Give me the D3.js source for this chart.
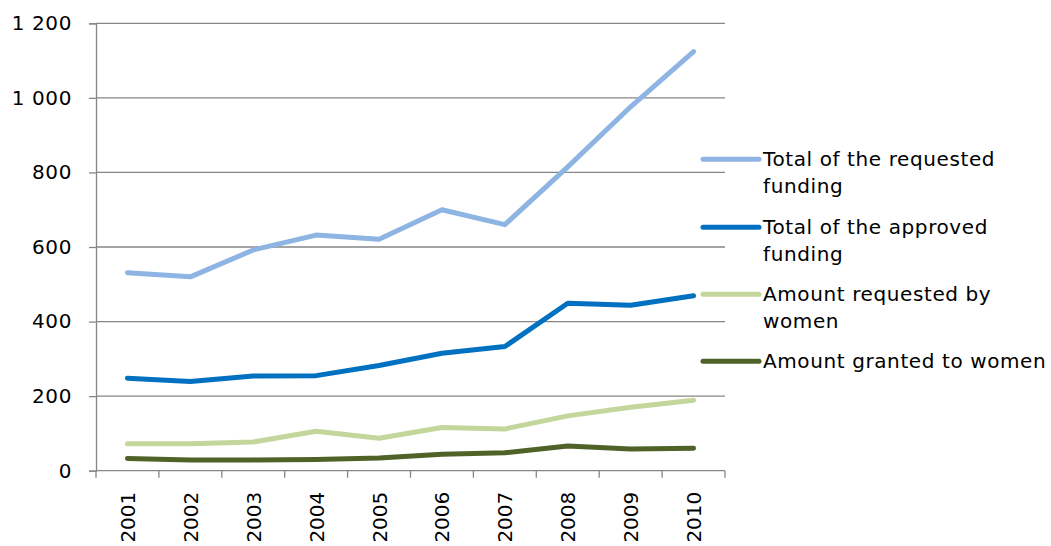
<!DOCTYPE html>
<html>
<head>
<meta charset="utf-8">
<script src="https://cdn.jsdelivr.net/npm/d3@7.9.0/dist/d3.min.js"></script>
<style>
  body { margin: 0; background: #fff; }
  text { font-family: "DejaVu Sans", Verdana, sans-serif; fill: #000; letter-spacing: 0.6px; }
  text.xlabel { letter-spacing: 0; }
</style>
</head>
<body>
<svg width="1051" height="546"></svg>
<script>
const years = ['2001', '2002', '2003', '2004', '2005', '2006', '2007', '2008', '2009', '2010'];
const requested = [531, 520, 592, 632, 621, 700, 660, 815, 976, 1124];
const approved = [248, 239, 254, 255, 282, 315, 333, 449, 444, 469];
const requestedWomen = [72, 72, 77, 106, 87, 116, 112, 147, 170, 189];
const grantedWomen = [33, 29, 29, 30, 34, 44, 48, 66, 58, 60];
const yTicks = [0, 200, 400, 600, 800, 1000, 1200];

const series = [
  { name: ['Total of the requested', 'funding'], values: requested, color: '#8db4e2' },
  { name: ['Total of the approved', 'funding'], values: approved, color: '#0070c0' },
  { name: ['Amount requested by', 'women'], values: requestedWomen, color: '#c3d69b' },
  { name: ['Amount granted to women'], values: grantedWomen, color: '#4f6228' },
];

const svg = d3.select('svg');
const plotLeft = 96, plotRight = 725, plotTop = 23.3, plotBottom = 470.7;
const fontSize = 20;

let x = d3.scaleBand().domain(years).range([plotLeft, plotRight]);
let y = d3.scaleLinear().domain([0, 1200]).range([plotBottom, plotTop]);

// grid
svg.append('g')
  .selectAll('line')
  .data(yTicks.slice(1))
  .join('line')
  .attr('x1', plotLeft).attr('x2', plotRight)
  .attr('y1', d => y(d)).attr('y2', d => y(d))
  .attr('stroke', '#868686').attr('stroke-width', 1.3);

// y axis
let yAxis = svg.append('g')
  .attr('transform', `translate(${plotLeft},0)`)
  .call(d3.axisLeft(y).tickValues(yTicks).tickSize(7).tickPadding(17)
    .tickFormat(d => d3.format(',')(d).replace(',', ' ')));
yAxis.select('.domain').attr('stroke', '#868686').attr('stroke-width', 1.3);
yAxis.selectAll('.tick line').attr('stroke', '#868686').attr('stroke-width', 1.3);
yAxis.selectAll('text').attr('font-size', fontSize).attr('font-family', '"DejaVu Sans", Verdana, sans-serif').attr('fill', '#000');

// x axis
let xAxis = svg.append('g').attr('transform', `translate(0,${plotBottom})`);
xAxis.append('line')
  .attr('x1', plotLeft).attr('x2', plotRight)
  .attr('stroke', '#868686').attr('stroke-width', 1.3);
let bounds = years.map(d => x(d)).concat([plotRight]);
xAxis.selectAll('.xtick')
  .data(bounds)
  .join('line')
  .attr('class', 'xtick')
  .attr('x1', d => d).attr('x2', d => d)
  .attr('y1', 0).attr('y2', 7)
  .attr('stroke', '#868686').attr('stroke-width', 1.3);
xAxis.selectAll('.xlabel')
  .data(years)
  .join('text')
  .attr('class', 'xlabel')
  .attr('transform', d => `translate(${x(d) + x.bandwidth() / 2 + 7.5},21) rotate(-90)`)
  .attr('text-anchor', 'end')
  .attr('font-size', fontSize)
  .text(d => d);

// lines
let line = d3.line()
  .x((d, i) => x(years[i]) + x.bandwidth() / 2)
  .y(d => y(d));

series.forEach(s => {
  svg.append('path')
    .attr('d', line(s.values))
    .attr('fill', 'none')
    .attr('stroke', s.color)
    .attr('stroke-width', 5)
    .attr('stroke-linecap', 'round')
    .attr('stroke-linejoin', 'round');
});

// legend
let legendY = [159.3, 227.3, 294.3, 361.3];
series.forEach((s, idx) => {
  let g = svg.append('g').attr('transform', `translate(703,${legendY[idx]})`);
  g.append('line')
    .attr('x1', 0).attr('x2', 56)
    .attr('stroke', s.color).attr('stroke-width', 5)
    .attr('stroke-linecap', 'round');
  s.name.forEach((t, k) => {
    g.append('text')
      .attr('x', 60)
      .attr('y', 7 + k * 26.7)
      .attr('font-size', fontSize)
      .text(t);
  });
});
</script>
</body>
</html>
